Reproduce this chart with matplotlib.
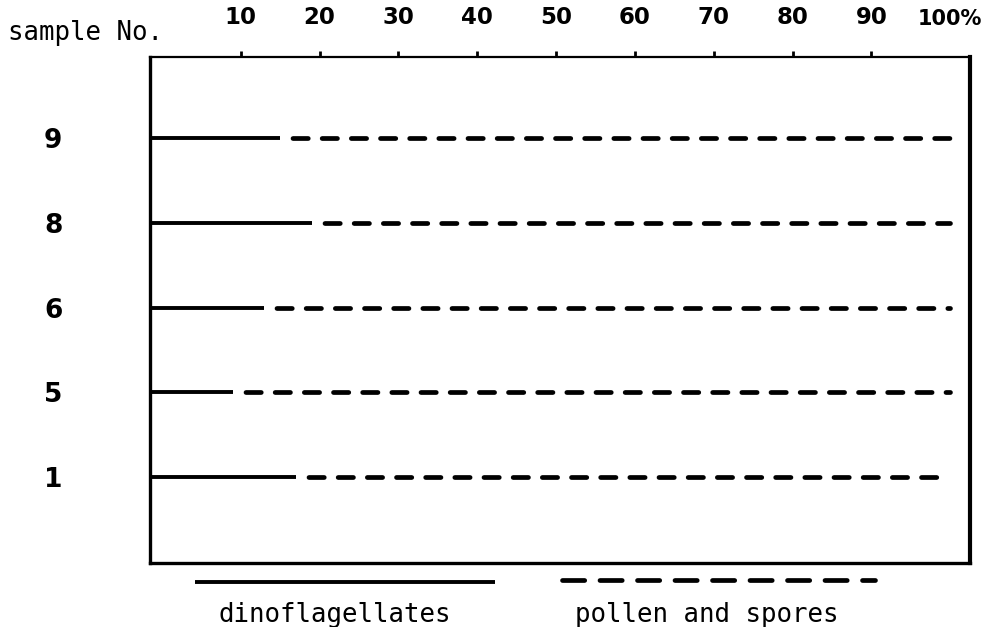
import matplotlib.pyplot as plt
from matplotlib.lines import Line2D

plt.rcParams["lines.scale_dashes"] = False
plt.rcParams["font.family"] = "DejaVu Sans"

# sample numbers, top to bottom, and share of dinoflagellates (%) in each
samples = ["9", "8", "6", "5", "1"]
dinoflagellates = [15, 19, 13, 9, 17]
total = 100  # rest of the row is pollen and spores
pct_ticks = [10, 20, 30, 40, 50, 60, 70, 80, 90, 100]
pct_labels = ["10", "20", "30", "40", "50", "60", "70", "80", "90", "100%"]

W, H = 987, 627
fig = plt.figure(figsize=(W / 100, H / 100), dpi=100)
ax = fig.add_axes([150 / W, 1 - 563 / H, 820 / W, 506 / H])

x0, x1 = -1.5, 102.5
ax.set_xlim(x0, x1)
ax.set_ylim(len(samples) - 1 + 1.015, -0.956)

solid_kw = dict(color="black", lw=2.8, solid_capstyle="butt")
dash_kw = dict(color="black", lw=3.4, dash_capstyle="round")
for i, d in enumerate(dinoflagellates):
    ax.plot([x0, d], [i, i], **solid_kw)
    ax.plot([d, total], [i, i], linestyle=(12, (11, 10)), **dash_kw)

# frame
for side, lw in [("top", 1.6), ("left", 2.4), ("right", 3.0), ("bottom", 2.4)]:
    ax.spines[side].set_linewidth(lw)

ax.xaxis.tick_top()
ax.set_xticks(pct_ticks, pct_labels)
ax.tick_params(axis="x", direction="out", length=4, width=2, pad=16, labelsize=16.5)
ax.xaxis.get_major_ticks()[-1].tick2line.set_visible(False)

ax.set_yticks(range(len(samples)), samples)
ax.tick_params(axis="y", length=0, pad=63, labelsize=19)
for lbl in ax.get_xticklabels() + ax.get_yticklabels():
    lbl.set_fontweight("bold")
ax.get_xticklabels()[-1].set_fontsize(15)

mono = dict(family="DejaVu Sans Mono", fontsize=18.5)
fig.text(8 / W, 1 - 40 / H, "sample No.", ha="left", va="baseline", **mono)

# legend below the frame
fig.add_artist(Line2D([195 / W, 495 / W], [1 - 582 / H] * 2,
                      transform=fig.transFigure, **solid_kw))
fig.add_artist(Line2D([562 / W, 875 / W], [1 - 580 / H] * 2,
                      transform=fig.transFigure, linestyle=(0, (16, 11)), **dash_kw))
fig.text(335 / W, 1 - 615 / H, "dinoflagellates", ha="center", va="center", **mono)
fig.text(707 / W, 1 - 615 / H, "pollen and spores", ha="center", va="center", **mono)

fig.savefig("out.png", dpi=100)
